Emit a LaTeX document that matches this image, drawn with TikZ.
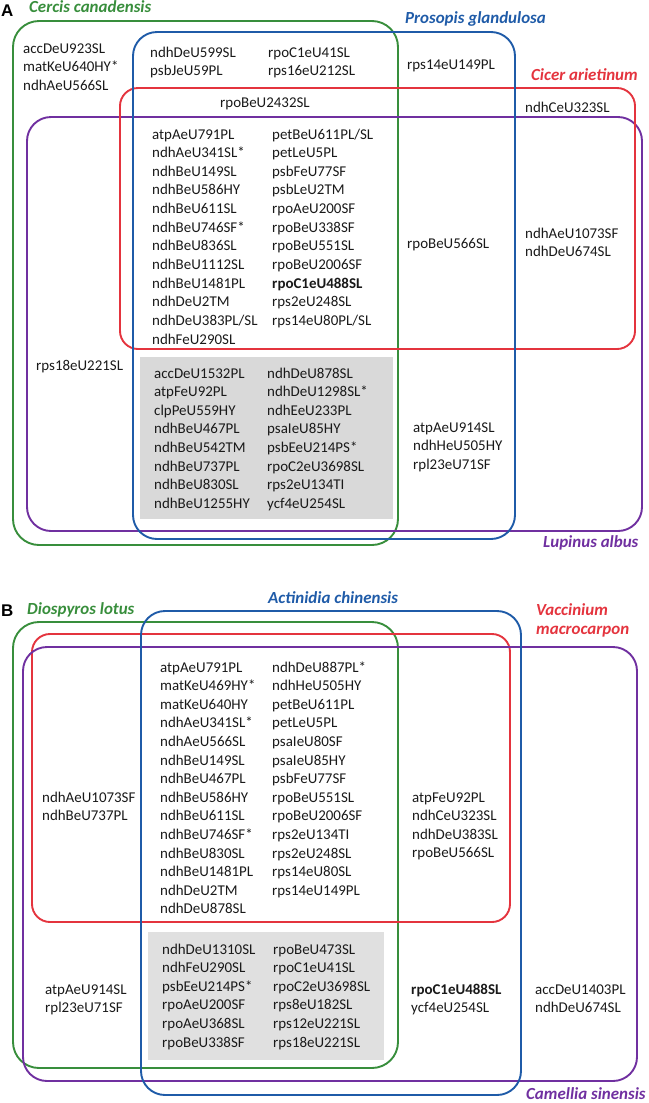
\documentclass[tikz,border=0pt]{standalone}
\usepackage{fontspec}
\setmainfont{Carlito}
\newfontfamily\labfont{Liberation Sans}
\definecolor{cgreen}{RGB}{56,142,60}
\definecolor{cblue}{RGB}{31,91,168}
\definecolor{cred}{RGB}{228,52,62}
\definecolor{cpurple}{RGB}{112,48,160}
\definecolor{cgrey}{RGB}{217,217,217}
\definecolor{cgreyb}{RGB}{224,224,224}
\definecolor{ctext}{RGB}{25,25,25}
\tikzset{
  gene/.style={anchor=base west, inner sep=0pt, font=\fontsize{15}{18}\selectfont, text=ctext},
  species/.style={anchor=base west, inner sep=0pt, font=\fontsize{17}{20}\selectfont\bfseries\itshape},
  panel/.style={anchor=base west, inner sep=0pt, font=\labfont\fontsize{17}{20}\selectfont\bfseries},
  setbox/.style={line width=1.9bp, rounded corners=#1},
  greybox/.style={draw=none},
}
\begin{document}
\begin{tikzpicture}[x=1bp,y=-1bp]
\useasboundingbox (0,0) rectangle (649,1103);
%%%%%%%%%%%%%%%% Panel A
\fill[greybox, cgrey] (140,357) rectangle (393,519);
\draw[setbox=26bp, cgreen] (13,21) rectangle (398,545);
\draw[setbox=24bp, cpurple] (27,117) rectangle (642,531);
\draw[setbox=18bp, cred] (120,88) rectangle (635,349);
\draw[setbox=24bp, cblue] (133,32) rectangle (515,539);

\node[panel] (pA) at (1,16) {A};
\node[species, text=cgreen] (spCerc) at (29,12) {Cercis canadensis};
\node[species, text=cblue] (spPros) at (405,23) {Prosopis glandulosa};
\node[species, text=cred] (spCice) at (531,80) {Cicer arietinum};
\node[species, text=cpurple] (spLupi) at (543,547) {Lupinus albus};

\foreach \t [count=\i] in {accDeU923SL, matKeU640HY*, ndhAeU566SL}
  \node[gene] (aG\i) at (23,{53+18.6*(\i-1)}) {\t};
\foreach \t [count=\i] in {ndhDeU599SL, psbJeU59PL}
  \node[gene] (aGB\i) at (150,{57+18.6*(\i-1)}) {\t};
\foreach \t [count=\i] in {rpoC1eU41SL, rps16eU212SL}
  \node[gene] (aGBb\i) at (268,{57+18.6*(\i-1)}) {\t};
\node[gene] (aB1) at (407,69) {rps14eU149PL};
\node[gene] (aGBR1) at (220,107) {rpoBeU2432SL};
\node[gene] (aR1) at (525,112) {ndhCeU323SL};
\foreach \t [count=\i] in {atpAeU791PL, ndhAeU341SL*, ndhBeU149SL, ndhBeU586HY, ndhBeU611SL, ndhBeU746SF*, ndhBeU836SL, ndhBeU1112SL, ndhBeU1481PL, ndhDeU2TM, ndhDeU383PL/SL, ndhFeU290SL}
  \node[gene] (aAll\i) at (152,{139+18.64*(\i-1)}) {\t};
\foreach \t [count=\i] in {petBeU611PL/SL, petLeU5PL, psbFeU77SF, psbLeU2TM, rpoAeU200SF, rpoBeU338SF, rpoBeU551SL, rpoBeU2006SF, {\textbf{rpoC1eU488SL}}, rps2eU248SL, rps14eU80PL/SL}
  \node[gene] (aAllb\i) at (272,{139+18.64*(\i-1)}) {\t};
\node[gene] (aBRP1) at (407,248) {rpoBeU566SL};
\foreach \t [count=\i] in {ndhAeU1073SF, ndhDeU674SL}
  \node[gene] (aRP\i) at (525,{238+18.6*(\i-1)}) {\t};
\node[gene] (aGP1) at (36,370) {rps18eU221SL};
\foreach \t [count=\i] in {accDeU1532PL, atpFeU92PL, clpPeU559HY, ndhBeU467PL, ndhBeU542TM, ndhBeU737PL, ndhBeU830SL, ndhBeU1255HY}
  \node[gene] (aGry\i) at (154,{378+18.6*(\i-1)}) {\t};
\foreach \t [count=\i] in {ndhDeU878SL, ndhDeU1298SL*, ndhEeU233PL, psaIeU85HY, psbEeU214PS*, rpoC2eU3698SL, rps2eU134TI, ycf4eU254SL}
  \node[gene] (aGryb\i) at (267,{378+18.6*(\i-1)}) {\t};
\foreach \t [count=\i] in {atpAeU914SL, ndhHeU505HY, rpl23eU71SF}
  \node[gene] (aBP\i) at (413,{432+18.6*(\i-1)}) {\t};

%%%%%%%%%%%%%%%% Panel B
\fill[greybox, cgreyb] (148,932) rectangle (384,1060);
\draw[setbox=26bp, cgreen] (13,622) rectangle (398,1068);
\draw[setbox=18bp, cred] (32,634) rectangle (510,922);
\draw[setbox=24bp, cpurple] (23,647) rectangle (637,1081);
\draw[setbox=24bp, cblue] (141,611) rectangle (521,1095);

\node[panel] (pB) at (1,616) {B};
\node[species, text=cgreen] (spDios) at (27,614) {Diospyros lotus};
\node[species, text=cblue] (spActi) at (268,603) {Actinidia chinensis};
\node[species, text=cred] (spVacc) at (536,615) {Vaccinium};
\node[species, text=cred] (spVacc2) at (536,634) {macrocarpon};
\node[species, text=cpurple] (spCame) at (526,1099) {Camellia sinensis};

\foreach \t [count=\i] in {atpAeU791PL, matKeU469HY*, matKeU640HY, ndhAeU341SL*, ndhAeU566SL, ndhBeU149SL, ndhBeU467PL, ndhBeU586HY, ndhBeU611SL, ndhBeU746SF*, ndhBeU830SL, ndhBeU1481PL, ndhDeU2TM, ndhDeU878SL}
  \node[gene] (bAll\i) at (160,{672+18.6*(\i-1)}) {\t};
\foreach \t [count=\i] in {ndhDeU887PL*, ndhHeU505HY, petBeU611PL, petLeU5PL, psaIeU80SF, psaIeU85HY, psbFeU77SF, rpoBeU551SL, rpoBeU2006SF, rps2eU134TI, rps2eU248SL, rps14eU80SL, rps14eU149PL}
  \node[gene] (bAllb\i) at (272,{672+18.6*(\i-1)}) {\t};
\foreach \t [count=\i] in {ndhAeU1073SF, ndhBeU737PL}
  \node[gene] (bGRP\i) at (42,{802+18.6*(\i-1)}) {\t};
\foreach \t [count=\i] in {atpFeU92PL, ndhCeU323SL, ndhDeU383SL, rpoBeU566SL}
  \node[gene] (bBRP\i) at (412,{802+18.6*(\i-1)}) {\t};
\foreach \t [count=\i] in {ndhDeU1310SL, ndhFeU290SL, psbEeU214PS*, rpoAeU200SF, rpoAeU368SL, rpoBeU338SF}
  \node[gene] (bGry\i) at (162,{954+18.6*(\i-1)}) {\t};
\foreach \t [count=\i] in {rpoBeU473SL, rpoC1eU41SL, rpoC2eU3698SL, rps8eU182SL, rps12eU221SL, rps18eU221SL}
  \node[gene] (bGryb\i) at (273,{954+18.6*(\i-1)}) {\t};
\foreach \t [count=\i] in {atpAeU914SL, rpl23eU71SF}
  \node[gene] (bGP\i) at (45,{994+18.6*(\i-1)}) {\t};
\foreach \t [count=\i] in {{\textbf{rpoC1eU488SL}}, ycf4eU254SL}
  \node[gene] (bBP\i) at (411,{994+18.6*(\i-1)}) {\t};
\foreach \t [count=\i] in {accDeU1403PL, ndhDeU674SL}
  \node[gene] (bP\i) at (535,{994+18.6*(\i-1)}) {\t};
\end{tikzpicture}
\end{document}
